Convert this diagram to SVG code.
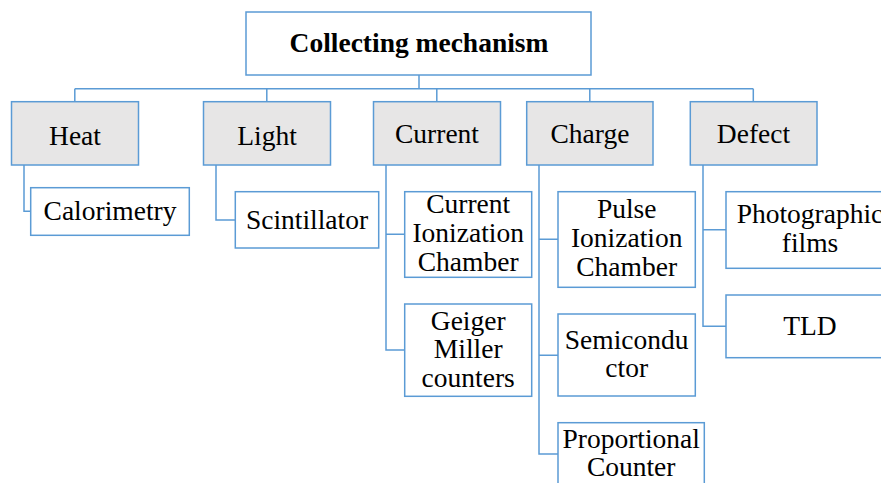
<svg xmlns="http://www.w3.org/2000/svg" width="881" height="483" viewBox="0 0 881 483">
<style>
.box{fill:#ffffff;stroke:#5b9bd5;stroke-width:1.5}
.cat{fill:#e7e6e6;stroke:#5b9bd5;stroke-width:1.5}
.ln{fill:none;stroke:#5b9bd5;stroke-width:1.5}
.t{font-size:27.5px;fill:#000;text-anchor:middle}
.b{font-weight:bold}
</style>
<rect width="881" height="483" fill="#ffffff"/>
<g id="connectors">
<path class="ln" d="M419,75V88.7M74.8,88.7H753.3M74.8,88.7V101.7M266.8,88.7V101.7M436.8,88.7V101.7M589.8,88.7V101.7M753.3,88.7V101.7"/>
<path class="ln" d="M24,165V211.3H30.7"/>
<path class="ln" d="M216,165V220H235.3"/>
<path class="ln" d="M386,165V350H404.7M386,234.3H404.7"/>
<path class="ln" d="M539,165V454H558M539,239.3H558M539,355.3H558"/>
<path class="ln" d="M703,165V326.3H726M703,229.7H726"/>
</g>
<g font-family="Liberation Serif, Times New Roman, DejaVu Serif, serif">
<g id="root">
<rect class="box" x="246" y="12" width="345" height="63"/>
<text class="t b" x="419" y="52">Collecting mechanism</text>
</g>
<g id="heat">
<rect class="cat" x="11.5" y="101.7" width="127" height="63.3"/>
<text class="t" x="75" y="145">Heat</text>
</g>
<g id="light">
<rect class="cat" x="203.5" y="101.7" width="127" height="63.3"/>
<text class="t" x="267" y="145">Light</text>
</g>
<g id="current">
<rect class="cat" x="373.5" y="101.7" width="127" height="63.3"/>
<text class="t" x="437" y="143">Current</text>
</g>
<g id="charge">
<rect class="cat" x="526.7" y="101.7" width="126.3" height="63.3"/>
<text class="t" x="590" y="143">Charge</text>
</g>
<g id="defect">
<rect class="cat" x="690.3" y="101.7" width="126.7" height="63.3"/>
<text class="t" x="753.5" y="143">Defect</text>
</g>
<g id="calorimetry">
<rect class="box" x="30.7" y="187.7" width="158.6" height="47.6"/>
<text class="t" x="110" y="220">Calorimetry</text>
</g>
<g id="scintillator">
<rect class="box" x="235.3" y="191.7" width="143.4" height="56.3"/>
<text class="t" x="307" y="229.3">Scintillator</text>
</g>
<g id="current-ionization-chamber">
<rect class="box" x="404.7" y="191.7" width="127" height="85.6"/>
<text class="t" x="468.2" y="213.3">Current</text>
<text class="t" x="468.2" y="242.3">Ionization</text>
<text class="t" x="468.2" y="270.7">Chamber</text>
</g>
<g id="geiger-miller-counters">
<rect class="box" x="404.7" y="304" width="127" height="92.3"/>
<text class="t" x="468.2" y="330">Geiger</text>
<text class="t" x="468.2" y="358.3">Miller</text>
<text class="t" x="468.2" y="386.7">counters</text>
</g>
<g id="pulse-ionization-chamber">
<rect class="box" x="558" y="191.7" width="137.3" height="95.6"/>
<text class="t" x="626.7" y="218.3">Pulse</text>
<text class="t" x="626.7" y="247">Ionization</text>
<text class="t" x="626.7" y="276">Chamber</text>
</g>
<g id="semiconductor">
<rect class="box" x="558" y="314" width="137.3" height="82"/>
<text class="t" x="626.7" y="349.3">Semicondu</text>
<text class="t" x="626.7" y="376.7">ctor</text>
</g>
<g id="proportional-counter">
<rect class="box" x="558" y="422.7" width="146.3" height="70"/>
<text class="t" x="631.2" y="448.3">Proportional</text>
<text class="t" x="631.2" y="476">Counter</text>
</g>
<g id="photographic-films">
<rect class="box" x="726" y="191.7" width="170" height="76.6"/>
<text class="t" x="810" y="223.3">Photographic</text>
<text class="t" x="810" y="251.7">films</text>
</g>
<g id="tld">
<rect class="box" x="726" y="295" width="170" height="62.7"/>
<text class="t" x="810" y="335">TLD</text>
</g>
</g>
</svg>
